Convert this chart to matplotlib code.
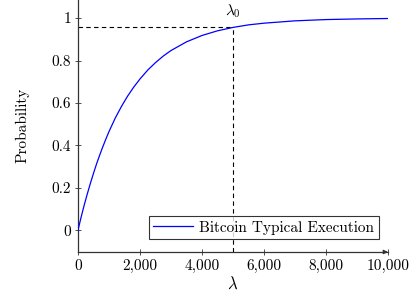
import numpy as np
import matplotlib.pyplot as plt

plt.rcParams['font.family'] = ['cmr10', 'DejaVu Serif']
plt.rcParams['mathtext.fontset'] = 'cm'
plt.rcParams['axes.unicode_minus'] = False

# values
lam = [0, 100, 200, 300, 400, 500, 600, 700, 800, 900, 1000, 1200, 1400, 1600,
       1800, 2000, 2250, 2500, 2750, 3000, 3500, 4000, 4500, 5000, 5500, 6000,
       7000, 8000, 9000, 10000]
prob = [0, 0.061, 0.118, 0.171, 0.221, 0.268, 0.313, 0.354, 0.393, 0.430, 0.465,
        0.528, 0.583, 0.632, 0.675, 0.713, 0.755, 0.790, 0.821, 0.847, 0.888,
        0.918, 0.940, 0.956, 0.968, 0.976, 0.987, 0.993, 0.996, 0.998]

lam0 = 5000
p0 = 0.956

xticks = [0, 2000, 4000, 6000, 8000, 10000]
xticklabels = ['0', '2,000', '4,000', '6,000', '8,000', '10,000']
yticks = [0, 0.2, 0.4, 0.6, 0.8, 1]
yticklabels = ['0', '0.2', '0.4', '0.6', '0.8', '1']

fig = plt.figure(figsize=(4.12, 3.0), dpi=100)
ax = fig.add_axes([78 / 412, 48 / 300, 310 / 412, 253 / 300])
ax.set_xlim(0, 10000)
ax.set_ylim(-0.103, 1.09)

ax.plot(lam, prob, color='blue', lw=0.9, label='Bitcoin Typical Execution', zorder=3)
ax.plot([0, lam0], [p0, p0], color='black', lw=0.8, ls=(0, (4, 3)))
ax.plot([lam0, lam0], [-0.103, p0], color='black', lw=0.8, ls=(0, (4, 3)))
ax.text(lam0, 1.012, r'$\lambda_0$', ha='center', va='baseline', fontsize=11)

for s in ['top', 'right']:
    ax.spines[s].set_visible(False)
for s in ['left', 'bottom']:
    ax.spines[s].set_color('#333333')
    ax.spines[s].set_linewidth(0.9)
ax.annotate('', xy=(1.0, 0), xycoords='axes fraction', xytext=(0.99, 0),
            arrowprops=dict(arrowstyle='-|>', color='#333333', lw=0.9,
                            mutation_scale=6, shrinkA=0, shrinkB=0))

ax.set_xticks(xticks)
ax.set_xticklabels(xticklabels)
ax.set_yticks(yticks)
ax.set_yticklabels(yticklabels)
ax.tick_params(direction='inout', length=4, width=0.6, color='#333333',
               labelsize=11, pad=3)

ax.set_xlabel(r'$\lambda$', fontsize=12, labelpad=2)
ax.set_ylabel('Probability', fontsize=11, labelpad=16)

leg = ax.legend(loc='lower right', bbox_to_anchor=(0.97, 0.05), fontsize=11,
                frameon=True, fancybox=False, edgecolor='black',
                handlelength=2.6, handletextpad=0.4, borderpad=0.3,
                borderaxespad=0)
leg.get_frame().set_linewidth(0.8)

fig.savefig('out.png', dpi=100)
